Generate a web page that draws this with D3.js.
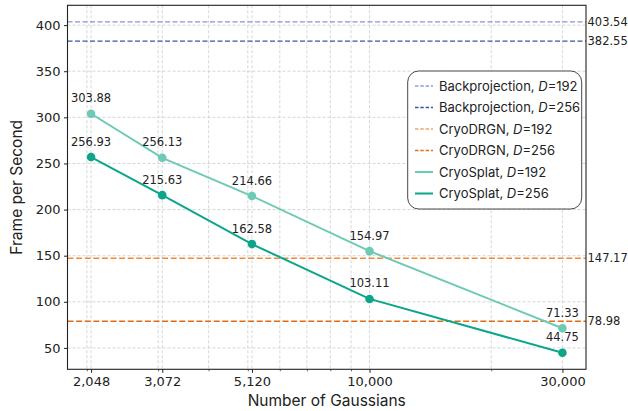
<!DOCTYPE html>
<html>
<head>
<meta charset="utf-8">
<script src="https://cdn.jsdelivr.net/npm/d3@7"></script>
<style>
  html, body { margin: 0; padding: 0; background: #fff; }
  svg { display: block; }
</style>
</head>
<body>
<svg id="chart" width="628" height="411"></svg>
<script>
// ---------- data ----------
const gaussians = [2048, 3072, 5120, 10000, 30000];
const xTickLabels = ["2,048", "3,072", "5,120", "10,000", "30,000"];
const xMinorTicks = [2000, 3000, 4000, 5000, 6000, 7000, 8000, 9000, 20000];
const yTicks = [50, 100, 150, 200, 250, 300, 350, 400];
const cryoSplat192 = [303.88, 256.13, 214.66, 154.97, 71.33];
const cryoSplat256 = [256.93, 215.63, 162.58, 103.11, 44.75];
const baselineNames = ["Backprojection", "Backprojection", "CryoDRGN", "CryoDRGN"];
const baselineD = [192, 256, 192, 256];
const baselineValues = [403.54, 382.55, 147.17, 78.98];
const baselineLabels = ["403.54", "382.55", "147.17", "78.98"];

// ---------- styles ----------
const baselineColors = ["#8397d0", "#3b579d", "#f48a35", "#e06c16"];
const baselineLegendColors = ["#8ea0d4", "#3b579d", "#f5a46a", "#e0701c"];
const baselineWidths = [1.3, 1.3, 1.6, 1.6];
const splatColors = ["#6ccab5", "#0ba68a"];

const svg = d3.select("#chart");
const m = { left: 67.5, right: 586, top: 5.3, bottom: 369.3 };
const x = d3.scaleLog()
  .domain([2048 / Math.pow(30000 / 2048, 0.05), 30000 * Math.pow(30000 / 2048, 0.05)])
  .range([m.left, m.right]);
const yMin = 44.75, yMax = 403.54, pad = (yMax - yMin) * 0.05;
const y = d3.scaleLinear().domain([yMin - pad, yMax + pad]).range([m.bottom, m.top]);

const tickFont = "'DejaVu Sans', sans-serif";
const labelFont = "Inter, 'DejaVu Sans', sans-serif";

// grid
const grid = svg.append("g");
grid.selectAll("line.gy").data(yTicks).join("line")
  .attr("x1", m.left).attr("x2", m.right)
  .attr("y1", d => y(d)).attr("y2", d => y(d))
  .attr("stroke", "#cccccc").attr("stroke-width", 0.8).attr("stroke-dasharray", "3,2");
grid.selectAll("line.gx").data(gaussians.concat(xMinorTicks)).join("line")
  .attr("x1", d => x(d)).attr("x2", d => x(d))
  .attr("y1", m.top).attr("y2", m.bottom)
  .attr("stroke", "#cccccc").attr("stroke-width", 0.8).attr("stroke-dasharray", "3,2");

// baselines
svg.append("g").selectAll("line").data(baselineValues).join("line")
  .attr("x1", m.left).attr("x2", m.right)
  .attr("y1", d => y(d)).attr("y2", d => y(d))
  .attr("stroke", (d, i) => baselineColors[i])
  .attr("stroke-width", (d, i) => baselineWidths[i])
  .attr("stroke-dasharray", (d, i) => i < 2 ? "5,2.5" : "6,2.6");

// right labels
svg.append("g").selectAll("text").data(baselineValues).join("text")
  .attr("x", m.right + 1.5).attr("y", d => y(d)).attr("dy", "0.36em")
  .attr("font-family", tickFont).attr("font-size", 11.5).attr("fill", "#222")
  .text((d, i) => baselineLabels[i]);

// series
const line = d3.line().x((d, i) => x(gaussians[i])).y(d => y(d));
[cryoSplat192, cryoSplat256].forEach((s, k) => {
  const g = svg.append("g");
  g.append("path").attr("d", line(s)).attr("fill", "none")
    .attr("stroke", splatColors[k]).attr("stroke-width", 2);
  g.selectAll("circle").data(s).join("circle")
    .attr("cx", (d, i) => x(gaussians[i])).attr("cy", d => y(d)).attr("r", 4.3)
    .attr("fill", splatColors[k]);
  g.selectAll("text").data(s).join("text")
    .attr("x", (d, i) => x(gaussians[i])).attr("y", d => y(d) - 11.5)
    .attr("text-anchor", "middle")
    .attr("font-family", tickFont).attr("font-size", 11.5).attr("fill", "#222")
    .text(d => d.toFixed(2));
});

// axes
const axL = svg.append("g").attr("transform", `translate(${m.left},0)`)
  .call(d3.axisLeft(y).tickValues(yTicks).tickSize(3.5).tickPadding(3.5).tickFormat(d3.format("d")));
axL.select(".domain").remove();
axL.selectAll("text").attr("font-family", tickFont).attr("font-size", 13).attr("fill", "#222");
axL.selectAll("line").attr("stroke", "#222");

const axB = svg.append("g").attr("transform", `translate(0,${m.bottom})`)
  .call(d3.axisBottom(x).tickValues(gaussians).tickSize(3.5).tickPadding(3.5)
    .tickFormat((d, i) => xTickLabels[i]));
axB.select(".domain").remove();
axB.selectAll("text").attr("font-family", tickFont).attr("font-size", 13).attr("fill", "#222");
axB.selectAll("line").attr("stroke", "#222");
const axBm = svg.append("g").attr("transform", `translate(0,${m.bottom})`)
  .call(d3.axisBottom(x).tickValues(xMinorTicks).tickSize(2).tickFormat(""));
axBm.select(".domain").remove();
axBm.selectAll("line").attr("stroke", "#222").attr("stroke-width", 0.7);

svg.append("rect").attr("x", m.left).attr("y", m.top)
  .attr("width", m.right - m.left).attr("height", m.bottom - m.top)
  .attr("fill", "none").attr("stroke", "#222").attr("stroke-width", 1.1);

// axis labels
svg.append("text").attr("x", (m.left + m.right) / 2).attr("y", 406)
  .attr("text-anchor", "middle").attr("font-family", labelFont).attr("font-size", 15.5)
  .attr("fill", "#222").text("Number of Gaussians");
svg.append("text").attr("transform", `translate(21.5,${(m.top + m.bottom) / 2}) rotate(-90)`)
  .attr("text-anchor", "middle").attr("font-family", labelFont).attr("font-size", 15.5)
  .attr("fill", "#222").text("Frame per Second");

// legend
const legendNames = baselineNames.concat(["CryoSplat", "CryoSplat"]);
const legendD = baselineD.concat([192, 256]);
const legendColors = baselineLegendColors.concat(splatColors);
const lg = svg.append("g");
lg.append("rect").attr("x", 407.7).attr("y", 71).attr("width", 174).attr("height", 138)
  .attr("rx", 11).attr("fill", "#fff").attr("stroke", "#333").attr("stroke-width", 0.9);
legendNames.forEach((name, i) => {
  const cy = 86 + i * 21.5;
  lg.append("line").attr("x1", 415).attr("x2", 433).attr("y1", cy).attr("y2", cy)
    .attr("stroke", legendColors[i]).attr("stroke-width", i < 4 ? 1.5 : 2)
    .attr("stroke-dasharray", i < 4 ? "3.5,1.8" : null);
  const t = lg.append("text").attr("x", 439).attr("y", cy).attr("dy", "0.36em")
    .attr("font-family", labelFont).attr("font-size", 13).attr("fill", "#222");
  t.append("tspan").text(name + ", ");
  t.append("tspan").attr("font-style", "italic").text("D");
  t.append("tspan").text("=" + legendD[i]);
});
</script>
</body>
</html>
